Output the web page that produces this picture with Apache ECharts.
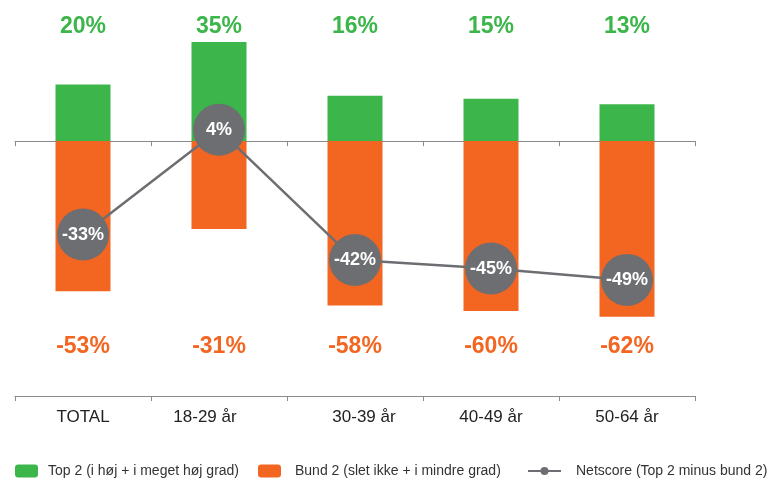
<!DOCTYPE html>
<html>
<head>
<meta charset="utf-8">
<script src="https://cdn.jsdelivr.net/npm/echarts@6/dist/echarts.min.js"></script>
<style>
  html, body { margin: 0; padding: 0; background: #fff; }
  #main { width: 769px; height: 480px; }
</style>
</head>
<body>
<div id="main"></div>
<script>
const categories = ['TOTAL', '18-29 år', '30-39 år', '40-49 år', '50-64 år'];
const top2 = [20, 35, 16, 15, 13];
const bund2 = [-53, -31, -58, -60, -62];
const netscore = [-33, 4, -42, -45, -49];

const green = '#3cb54a';
const orange = '#f36621';
const grey = '#6d6e71';
const font = 'Liberation Sans, Arial, Helvetica, sans-serif';

// small nudges so the age labels sit where the original has them
const labelStyle = ['c', 'l', 'r', 'c', 'c'];

const myChart = echarts.init(document.getElementById('main'));

myChart.setOption({
  animation: false,
  textStyle: { fontFamily: font },
  grid: { left: 15, right: 74, top: 42, bottom: 84 },
  legend: [
    {
      data: ['Top 2 (i høj + i meget høj grad)'],
      left: 10, top: 459, itemWidth: 23, itemHeight: 13,
      textStyle: { fontSize: 14, color: '#333', padding: [0, 0, 0, 5] }
    },
    {
      data: ['Bund 2 (slet ikke + i mindre grad)'],
      left: 253, top: 459, itemWidth: 23, itemHeight: 13,
      textStyle: { fontSize: 14, color: '#333', padding: [0, 0, 0, 9] }
    },
    {
      data: ['Netscore (Top 2 minus bund 2)'],
      left: 522, top: 459, itemWidth: 33, itemHeight: 10,
      textStyle: { fontSize: 14, color: '#333', padding: [0, 0, 0, 10] }
    }
  ],
  xAxis: [
    {
      type: 'category',
      data: categories,
      axisLine: { onZero: true, lineStyle: { color: '#8a8a8a', width: 1 } },
      axisTick: { show: true, length: 5, lineStyle: { color: '#8a8a8a' } },
      axisLabel: { show: false }
    },
    {
      type: 'category',
      data: categories,
      position: 'bottom',
      axisLine: { onZero: false, lineStyle: { color: '#8a8a8a', width: 1 } },
      axisTick: { show: true, length: 5, lineStyle: { color: '#8a8a8a' } },
      axisLabel: {
        fontSize: 17, color: '#222', margin: 13,
        formatter: (v, i) => '{' + labelStyle[i] + '|' + v + '}',
        rich: {
          c: { fontSize: 17, color: '#222' },
          l: { fontSize: 17, color: '#222', padding: [0, 28, 0, 0] },
          r: { fontSize: 17, color: '#222', padding: [0, 0, 0, 18] }
        }
      }
    },
    {
      type: 'category',
      data: categories,
      position: 'top',
      axisLine: { show: false },
      axisTick: { show: false },
      axisLabel: {
        fontSize: 23, fontWeight: 'bold', color: green, margin: 4,
        formatter: (v, i) => top2[i] + '%'
      }
    },
    {
      type: 'category',
      data: categories,
      position: 'bottom',
      offset: -61,
      axisLine: { show: false, onZero: false },
      axisTick: { show: false },
      axisLabel: {
        fontSize: 23, fontWeight: 'bold', color: orange, margin: 0,
        formatter: (v, i) => bund2[i] + '%'
      }
    }
  ],
  yAxis: {
    type: 'value',
    min: -90,
    max: 35,
    interval: 5,
    show: false,
    splitLine: { show: false }
  },
  series: [
    {
      name: 'Top 2 (i høj + i meget høj grad)',
      type: 'bar',
      stack: 'a',
      barWidth: 55,
      data: top2,
      itemStyle: { color: green }
    },
    {
      name: 'Bund 2 (slet ikke + i mindre grad)',
      type: 'bar',
      stack: 'a',
      barWidth: 55,
      data: bund2,
      itemStyle: { color: orange }
    },
    {
      name: 'Netscore (Top 2 minus bund 2)',
      type: 'line',
      data: netscore,
      z: 5,
      symbol: 'circle',
      symbolSize: 52,
      lineStyle: { color: grey, width: 2.5 },
      itemStyle: { color: grey },
      label: {
        show: true,
        position: 'inside',
        color: '#fff',
        fontSize: 18,
        fontWeight: 'bold',
        formatter: (p) => p.value + '%'
      }
    }
  ]
});
</script>
</body>
</html>
